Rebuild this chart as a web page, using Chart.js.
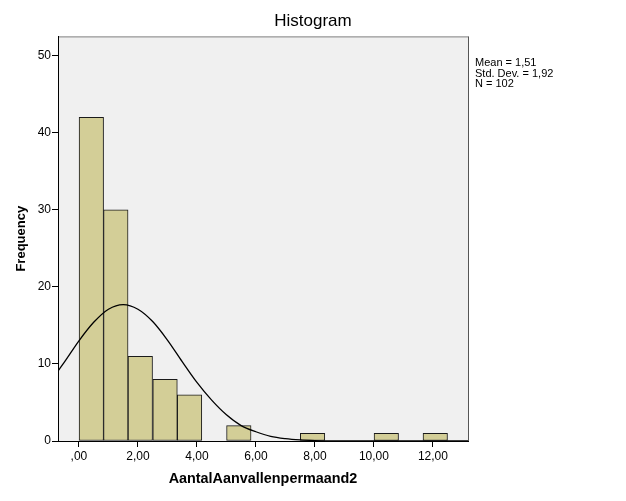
<!DOCTYPE html>
<html lang="nl">
<head>
<meta charset="UTF-8">
<title>Histogram</title>
<script src="https://cdn.jsdelivr.net/npm/chart.js"></script>
<style>
  html, body { margin: 0; padding: 0; background: #fff; }
  #wrap { width: 626px; height: 501px; position: relative; }
</style>
</head>
<body>
<div id="wrap"><canvas id="histo"></canvas></div>
<script>
// bins of width 0,8333 starting at ,00 -- centres and frequencies
const binCenters = [0.42, 1.25, 2.08, 2.92, 3.75, 4.58, 5.42, 6.25, 7.08, 7.92, 8.75, 9.58, 10.42, 11.25, 12.08];
const counts = [42, 30, 11, 8, 6, 0, 2, 0, 0, 1, 0, 0, 1, 0, 1];

// normal curve
const curveX = [-0.71, -0.5, 0, 0.5, 1, 1.5, 2, 2.5, 3, 3.5, 4, 4.5, 5, 5.5, 6, 6.5, 7, 7.5, 8, 8.5, 9, 10, 11, 12, 13.19];
const curveY = [9.1, 10.2, 13.0, 15.4, 17.1, 17.7, 17.1, 15.5, 13.1, 10.3, 7.6, 5.3, 3.4, 2.0, 1.2, 0.6, 0.3, 0.14, 0.06, 0.02, 0.01, 0, 0, 0, 0];

const xTicks = [0, 2, 4, 6, 8, 10, 12];
const yTicks = [0, 10, 20, 30, 40, 50];
const stats = ['Mean = 1,51', 'Std. Dev. = 1,92', 'N = 102'];

// SPSS style: ",00", "2,00", "10,00"
function fmt(v) {
    let s = v.toFixed(2).replace('.', ',');
    if (s.indexOf('0,') === 0) s = s.substring(1);
    return s;
}

const plotFrame = {
    id: 'plotFrame',
    beforeDraw(chart) {
        const { ctx, chartArea: a } = chart;
        ctx.save();
        ctx.fillStyle = '#f0f0f0';
        ctx.fillRect(a.left, a.top, a.right - a.left, a.bottom - a.top);
        ctx.strokeStyle = '#808080';
        ctx.lineWidth = 1;
        ctx.beginPath();
        ctx.moveTo(a.left, a.top + 0.5);
        ctx.lineTo(a.right, a.top + 0.5);
        ctx.stroke();
        ctx.strokeStyle = '#555';
        ctx.beginPath();
        ctx.moveTo(a.right + 0.5, a.top);
        ctx.lineTo(a.right + 0.5, a.bottom);
        ctx.stroke();
        ctx.restore();
    },
    afterDraw(chart) {
        const { ctx, chartArea: a } = chart;
        ctx.save();
        ctx.fillStyle = '#000';
        ctx.font = '11px Arial, "Liberation Sans", sans-serif';
        ctx.textBaseline = 'middle';
        stats.forEach((t, i) => ctx.fillText(t, a.right + 7, 63 + i * 10.5));
        ctx.restore();
    }
};

const ctx = document.getElementById('histo').getContext('2d');
new Chart(ctx, {
    data: {
        datasets: [{
            type: 'line',
            data: curveX.map((x, i) => ({ x: x, y: curveY[i] })),
            borderColor: '#000',
            borderWidth: 1.3,
            pointRadius: 0,
            cubicInterpolationMode: 'monotone',
            order: 0
        }, {
            type: 'bar',
            data: binCenters.map((x, i) => ({ x: x, y: counts[i] })),
            backgroundColor: '#d3ce97',
            borderColor: '#1a1a1a',
            borderWidth: 1,
            borderSkipped: false,
            barPercentage: 1,
            categoryPercentage: 1,
            order: 1
        }]
    },
    options: {
        responsive: true,
        maintainAspectRatio: false,
        animation: false,
        layout: { padding: 0 },
        plugins: {
            legend: { display: false },
            tooltip: { enabled: false },
            title: {
                display: true,
                text: 'Histogram',
                color: '#000',
                font: { family: 'Arial, "Liberation Sans", sans-serif', size: 17, weight: 'normal' },
                padding: { top: 11, bottom: 5 }
            }
        },
        scales: {
            x: {
                type: 'linear',
                min: -0.71,
                max: 13.19,
                offset: false,
                afterBuildTicks: s => { s.ticks = xTicks.map(v => ({ value: v })); },
                afterFit: s => { s.height = 60; },
                grid: { display: true, drawOnChartArea: false, offset: false, tickLength: 6, color: '#000' },
                border: { color: '#000', width: 1 },
                ticks: {
                    callback: v => fmt(v),
                    color: '#000',
                    padding: 2,
                    maxRotation: 0,
                    font: { family: 'Arial, "Liberation Sans", sans-serif', size: 12 }
                },
                title: {
                    display: true,
                    text: 'AantalAanvallenpermaand2',
                    color: '#000',
                    font: { family: 'Arial, "Liberation Sans", sans-serif', size: 14.4, weight: 'bold' },
                    padding: { top: 0, bottom: 13.4 }
                }
            },
            y: {
                min: 0,
                max: 52.5,
                afterBuildTicks: s => { s.ticks = yTicks.map(v => ({ value: v })); },
                afterFit: s => { s.width = 58; },
                grid: { display: true, drawOnChartArea: false, tickLength: 6, color: '#000' },
                border: { color: '#000', width: 1 },
                ticks: {
                    color: '#000',
                    padding: 1,
                    font: { family: 'Arial, "Liberation Sans", sans-serif', size: 12 }
                },
                title: {
                    display: true,
                    text: 'Frequency',
                    color: '#000',
                    font: { family: 'Arial, "Liberation Sans", sans-serif', size: 13, weight: 'bold' },
                    padding: { top: 14, bottom: 0 }
                }
            },
            // empty right axis that only reserves room for the statistics box
            side: {
                type: 'linear',
                position: 'right',
                display: true,
                min: 0,
                max: 1,
                afterFit: s => { s.width = 158; },
                grid: { display: false },
                border: { display: false },
                ticks: { display: false }
            }
        }
    },
    plugins: [plotFrame]
});
</script>
</body>
</html>
